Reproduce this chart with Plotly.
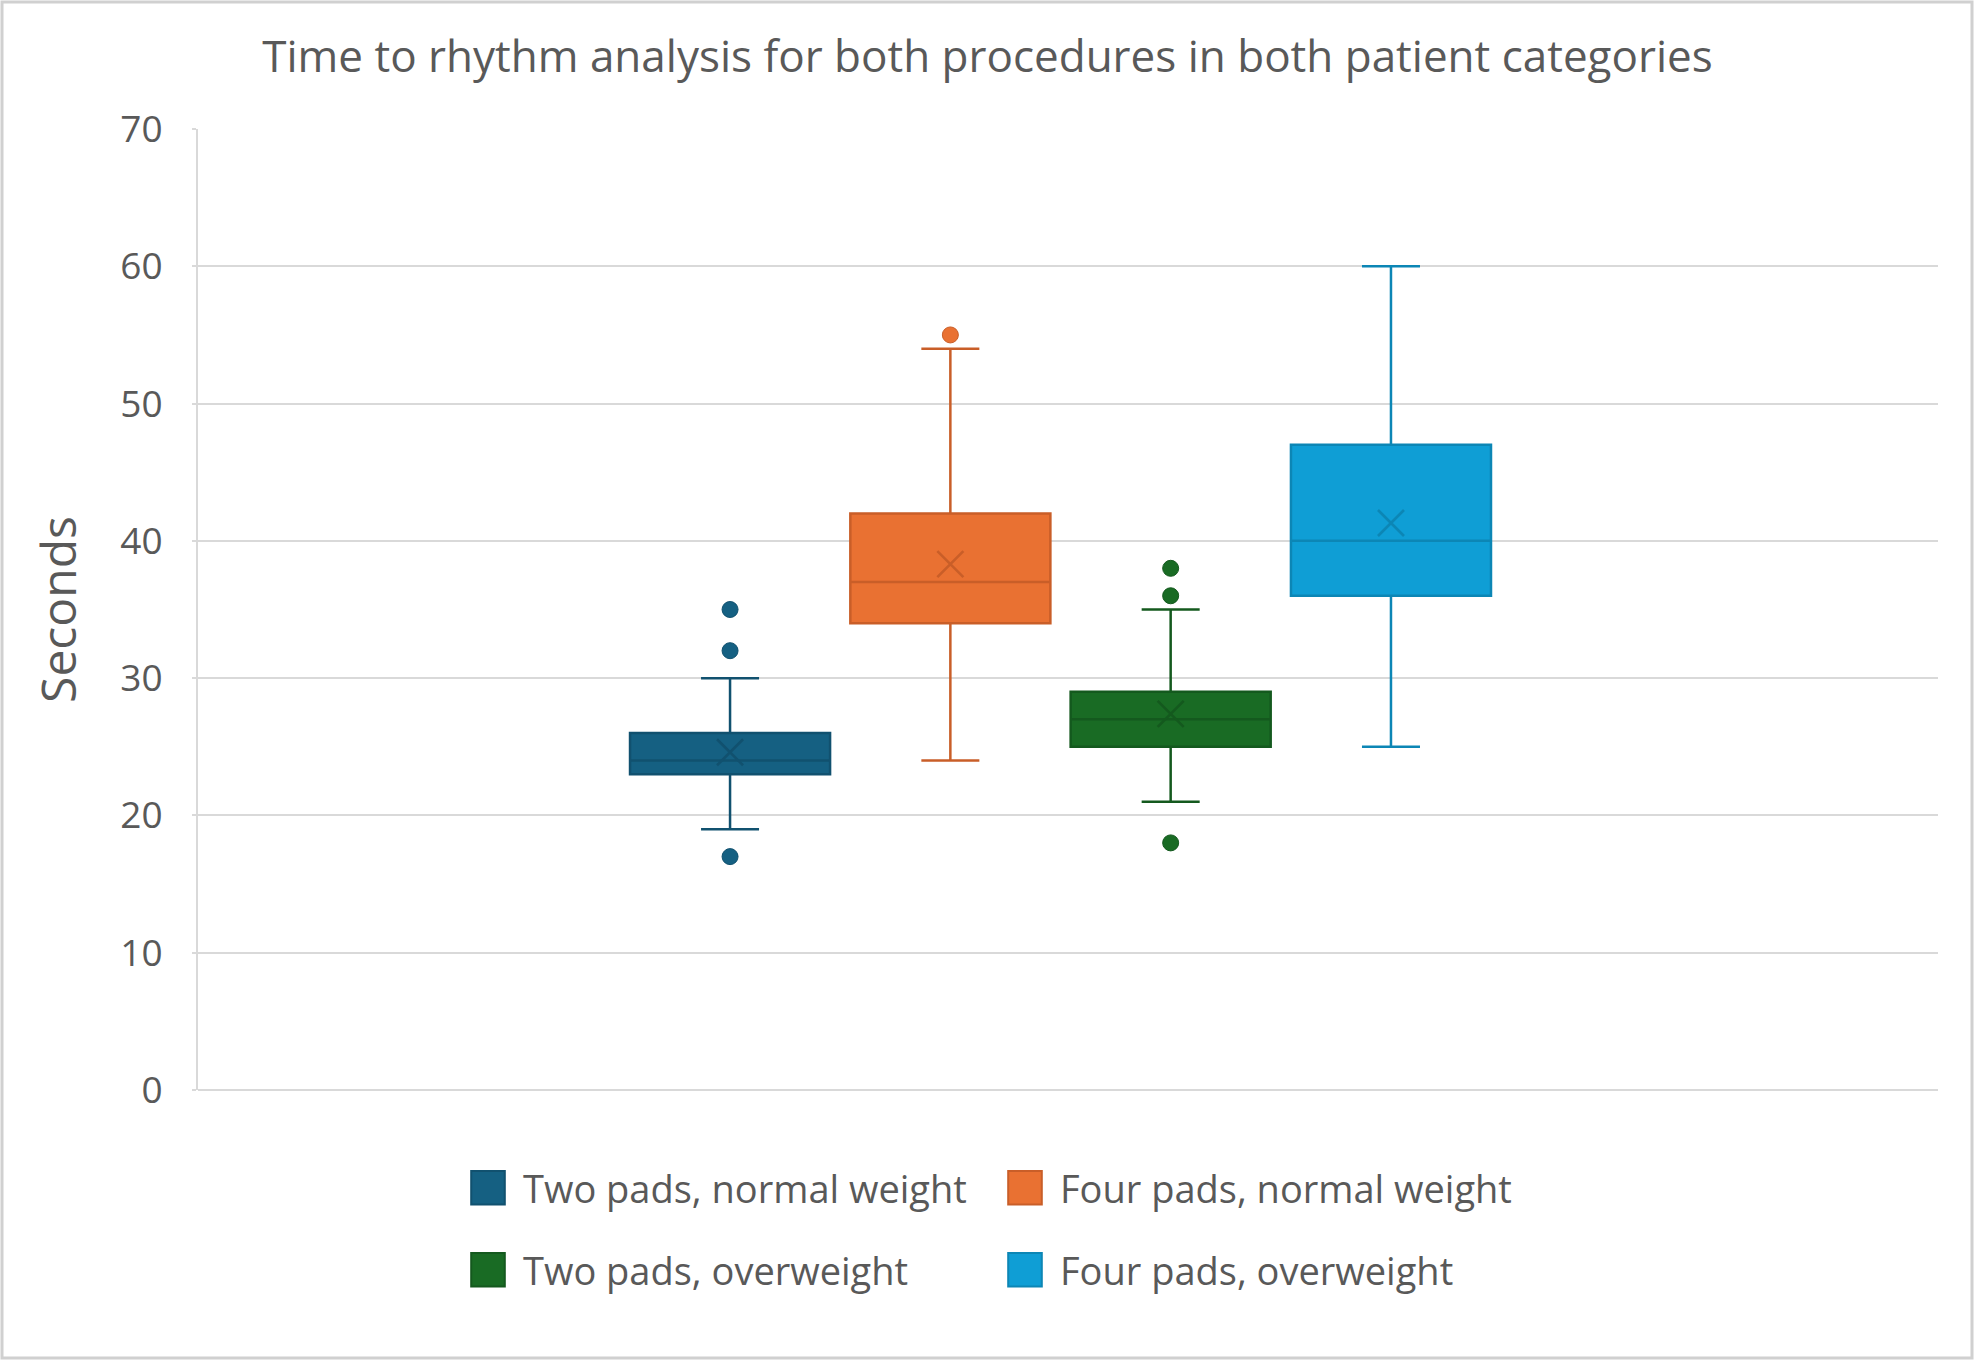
import plotly.graph_objects as go

# ---------------- data ----------------
series = ["Two pads, normal weight", "Four pads, normal weight",
          "Two pads, overweight", "Four pads, overweight"]
q1 = [23, 34, 25, 36]
median = [24, 37, 27, 40]
q3 = [26, 42, 29, 47]
lower_whisker = [19, 24, 21, 25]
upper_whisker = [30, 54, 35, 60]
means = [24.6, 38.3, 27.4, 41.3]
outliers = [[17, 32, 35], [55], [18, 36, 38], []]
y_ticks = [0, 10, 20, 30, 40, 50, 60, 70]

title_text = "Time to rhythm analysis for both procedures in both patient categories"
y_title = "Seconds"

# ---------------- styles ----------------
fill_colors = ["#156082", "#E97132", "#196B24", "#0F9ED5"]
line_colors = ["#11516F", "#C95E28", "#14591E", "#0C86B5"]
text_color = "#595959"
grid_color = "#D9D9D9"
font_family = "Open Sans"

W, H = 1975, 1361
ML, MR, MT, MB = 198, 37, 129, 271
PW, PH = W - ML - MR, H - MT - MB

legend_names = ["legend", "legend2", "legend3", "legend4"]
row1_px, row2_px = 1188, 1270
legend_x = [(483 - ML) / PW, (1020 - ML) / PW, (483 - ML) / PW, (1020 - ML) / PW]
legend_y = [-(row1_px - (MT + PH)) / PH, -(row1_px - (MT + PH)) / PH,
            -(row2_px - (MT + PH)) / PH, -(row2_px - (MT + PH)) / PH]

fig = go.Figure()

for i, name in enumerate(series):
    fig.add_trace(go.Box(
        x=[i], q1=[q1[i]], median=[median[i]], q3=[q3[i]],
        lowerfence=[lower_whisker[i]], upperfence=[upper_whisker[i]],
        name=name, width=0.908, whiskerwidth=0.29,
        fillcolor=fill_colors[i],
        line=dict(color=line_colors[i], width=2.5),
        boxpoints=False, hoverinfo="skip",
        legend=legend_names[i], showlegend=True,
    ))
    # mean marker (X)
    fig.add_trace(go.Scatter(
        x=[i], y=[means[i]], mode="markers", showlegend=False,
        marker=dict(symbol="x-thin", size=26,
                    line=dict(width=2.6, color=line_colors[i])),
        hoverinfo="skip",
    ))
    # outliers
    if outliers[i]:
        fig.add_trace(go.Scatter(
            x=[i] * len(outliers[i]), y=outliers[i], mode="markers",
            showlegend=False,
            marker=dict(symbol="circle", size=16, color=fill_colors[i],
                        line=dict(width=1, color=line_colors[i])),
            hoverinfo="skip",
        ))

layout_legends = {}
for k, ln in enumerate(legend_names):
    layout_legends[ln] = dict(
        x=legend_x[k], y=legend_y[k], xanchor="left", yanchor="middle",
        orientation="h", bgcolor="rgba(0,0,0,0)",
        font=dict(family=font_family, size=38, color=text_color),
    )

fig.update_layout(
    width=W, height=H,
    margin=dict(l=ML, r=MR, t=MT, b=MB),
    paper_bgcolor="white", plot_bgcolor="white",
    font=dict(family=font_family, color=text_color),
    title=dict(text=title_text, x=0.5, xref="container", xanchor="center",
               y=1 - 57 / H, yref="container", yanchor="middle",
               font=dict(family=font_family, size=44, color=text_color)),
    xaxis=dict(range=[-2.415, 5.483], showticklabels=False, showgrid=False,
               zeroline=False, showline=False, fixedrange=True),
    yaxis=dict(range=[0, 70], tickvals=y_ticks, showgrid=True,
               gridcolor=grid_color, gridwidth=2,
               zeroline=True, zerolinecolor=grid_color, zerolinewidth=2,
               showline=True, linecolor=grid_color, linewidth=2,
               ticks="outside", ticklen=4, tickcolor=grid_color, tickwidth=2,
               ticklabelstandoff=22,
               tickfont=dict(family=font_family, size=37, color=text_color),
               title=dict(text=y_title, standoff=28,
                          font=dict(family=font_family, size=48, color=text_color))),
    showlegend=True,
    **layout_legends,
)

# outer chart border
fig.add_shape(type="rect", xref="paper", yref="paper",
              x0=(2 - ML) / PW, x1=(1972 - ML) / PW,
              y0=-(1358 - (MT + PH)) / PH, y1=(MT + PH - 2) / PH,
              line=dict(color="#D0D0D0", width=3), fillcolor="rgba(0,0,0,0)",
              layer="below")

post = """
document.body.style.margin = '0';
var gd = document.getElementById('{plot_id}');
function fixLegend(){
  gd.querySelectorAll('[clip-path]').forEach(function(s){
    var c = s.getAttribute('clip-path') || '';
    if (c.indexOf('legend') !== -1) { s.removeAttribute('clip-path'); }
  });
  gd.querySelectorAll('.scrollbox').forEach(function(s){ s.removeAttribute('clip-path'); });
  gd.querySelectorAll('.legendpoints path.legendbox').forEach(function(p){
    var t = p.getAttribute('data-orig');
    if (t === null) { t = p.getAttribute('transform') || ''; p.setAttribute('data-orig', t); }
    p.setAttribute('transform', t + ' translate(-15,0) scale(2.8)');
    p.style.vectorEffect = 'non-scaling-stroke';
    p.style.strokeWidth = '2px';
  });
}
fixLegend();
gd.on('plotly_afterplot', fixLegend);
"""

fig.write_html("out.html", post_script=post,
               config={"displayModeBar": False, "staticPlot": True})
